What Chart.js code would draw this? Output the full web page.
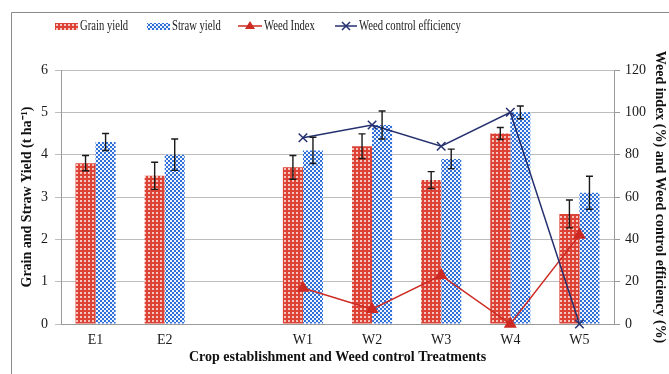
<!DOCTYPE html>
<html>
<head>
<meta charset="utf-8">
<script src="https://cdn.jsdelivr.net/npm/chart.js@4"></script>
<style>
  html, body { margin: 0; padding: 0; background: #fff; }
  #wrap { width: 669px; height: 374px; }
</style>
</head>
<body>
<div id="wrap"><canvas id="myChart" width="669" height="374"></canvas></div>
<script>
// data
const treatments = ['E1', 'E2', '', 'W1', 'W2', 'W3', 'W4', 'W5']
const grainYield = [3.8, 3.5, null, 3.7, 4.2, 3.4, 4.5, 2.6]
const grainErr   = [0.18, 0.32, null, 0.28, 0.29, 0.2, 0.14, 0.33]
const strawYield = [4.3, 4.0, null, 4.1, 4.7, 3.9, 5.0, 3.1]
const strawErr   = [0.2, 0.37, null, 0.31, 0.33, 0.23, 0.15, 0.39]
const weedIndex  = [null, null, null, 17, 7, 23, 0, 42]
const weedControl = [null, null, null, 88, 94, 84, 100, 0]
const yieldTicks = [0, 1, 2, 3, 4, 5, 6]
const percentTicks = [0, 20, 40, 60, 80, 100, 120]

const serif = "'Liberation Serif', 'Times New Roman', serif"

function makePattern(base, light, cells) {
  const c = document.createElement('canvas')
  c.width = 4
  c.height = 4
  const g = c.getContext('2d')
  g.fillStyle = base
  g.fillRect(0, 0, 4, 4)
  g.fillStyle = light
  cells.forEach(([x, y, w, h]) => g.fillRect(x, y, w || 1, h || 1))
  return g.createPattern(c, 'repeat')
}

const ctx = document.getElementById('myChart').getContext('2d')
const redPattern = makePattern('#dc4336', '#f6c6be', [[0, 0, 2, 2]])
const bluePattern = makePattern('#2f70d8', '#eef3fc', [[2, 0, 2, 2], [0, 2, 2, 2]])

// error bars on top of the bar datasets
const errorBars = {
  id: 'errorBars',
  afterDatasetsDraw(chart) {
    const c = chart.ctx
    const y = chart.scales.y
    const errs = [grainErr, strawErr]
    c.save()
    c.strokeStyle = '#1a1a1a'
    c.lineWidth = 1.4
    ;[0, 1].forEach(di => {
      const meta = chart.getDatasetMeta(di)
      meta.data.forEach((bar, i) => {
        const v = chart.data.datasets[di].data[i]
        const e = errs[di][i]
        if (v == null || e == null) return
        const top = y.getPixelForValue(v + e)
        const bot = y.getPixelForValue(v - e)
        c.beginPath()
        c.moveTo(bar.x, top); c.lineTo(bar.x, bot)
        c.moveTo(bar.x - 3.5, top); c.lineTo(bar.x + 3.5, top)
        c.moveTo(bar.x - 3.5, bot); c.lineTo(bar.x + 3.5, bot)
        c.stroke()
      })
    })
    c.restore()
  }
}

// narrow legend text, like the original
function legendText(c, text, x, y) {
  c.save()
  c.translate(x, y)
  c.scale(0.76, 1)
  c.fillText(text, 0, 0)
  c.restore()
}

// outer frame and the legend row
const frameLegend = {
  id: 'frameLegend',
  afterDraw(chart) {
    const c = chart.ctx
    c.save()
    c.strokeStyle = '#8a8a8a'
    c.lineWidth = 1
    c.beginPath()
    c.moveTo(11.5, 374); c.lineTo(11.5, 12.5); c.lineTo(669, 12.5)
    c.stroke()

    const ly = 26
    c.font = '14px ' + serif
    c.textBaseline = 'middle'

    c.fillStyle = redPattern
    c.fillRect(55, ly - 3, 23, 7)
    c.fillStyle = '#1a1a1a'
    legendText(c, 'Grain yield', 80, ly)

    c.fillStyle = bluePattern
    c.fillRect(147, ly - 3, 23, 7)
    c.fillStyle = '#1a1a1a'
    legendText(c, 'Straw yield', 172, ly)

    c.strokeStyle = '#cc2a22'
    c.lineWidth = 1.5
    c.beginPath(); c.moveTo(238, ly); c.lineTo(262, ly); c.stroke()
    c.fillStyle = '#cc2a22'
    c.beginPath(); c.moveTo(250, ly - 5); c.lineTo(255, ly + 3); c.lineTo(245, ly + 3); c.closePath(); c.fill()
    c.fillStyle = '#1a1a1a'
    legendText(c, 'Weed Index', 264, ly)

    c.strokeStyle = '#25306e'
    c.beginPath(); c.moveTo(335, ly); c.lineTo(357, ly); c.stroke()
    c.beginPath()
    c.moveTo(342, ly - 4); c.lineTo(350, ly + 4)
    c.moveTo(350, ly - 4); c.lineTo(342, ly + 4)
    c.stroke()
    legendText(c, 'Weed control efficiency', 359, ly)
    c.restore()
  }
}

new Chart(ctx, {
  type: 'bar',
  data: {
    labels: treatments,
    datasets: [
      {
        label: 'Grain yield',
        data: grainYield,
        backgroundColor: redPattern,
        yAxisID: 'y',
        order: 2,
        categoryPercentage: 0.58,
        barPercentage: 1.0
      },
      {
        label: 'Straw yield',
        data: strawYield,
        backgroundColor: bluePattern,
        yAxisID: 'y',
        order: 2,
        categoryPercentage: 0.58,
        barPercentage: 1.0
      },
      {
        type: 'line',
        label: 'Weed Index',
        data: weedIndex,
        yAxisID: 'y2',
        borderColor: '#cc2a22',
        backgroundColor: '#cc2a22',
        borderWidth: 1.5,
        pointStyle: 'triangle',
        pointRadius: 7.5,
        pointBorderWidth: 0,
        clip: false,
        order: 1
      },
      {
        type: 'line',
        label: 'Weed control efficiency',
        data: weedControl,
        yAxisID: 'y2',
        borderColor: '#25306e',
        backgroundColor: '#25306e',
        borderWidth: 1.5,
        pointStyle: 'crossRot',
        pointRadius: 6,
        pointBorderWidth: 1.5,
        clip: false,
        order: 0
      }
    ]
  },
  options: {
    responsive: false,
    animation: false,
    layout: { padding: { top: 70, left: 0, right: 0, bottom: 0 } },
    plugins: {
      legend: { display: false },
      tooltip: { enabled: false }
    },
    scales: {
      x: {
        grid: { display: false, drawTicks: false },
        border: { color: '#9a9a9a' },
        ticks: { color: '#1a1a1a', font: { family: serif, size: 14 }, padding: 8 },
        title: {
          display: true,
          text: 'Crop establishment and Weed control Treatments',
          color: '#111',
          font: { family: serif, size: 14, weight: 'bold' },
          padding: { top: 0, bottom: 8 }
        },
        afterFit: s => { s.height = 50 }
      },
      y: {
        position: 'left',
        min: 0,
        max: 6,
        afterBuildTicks: s => { s.ticks = yieldTicks.map(v => ({ value: v })) },
        grid: { color: '#bdbdbd', tickLength: 6 },
        border: { color: '#9a9a9a' },
        ticks: { color: '#1a1a1a', font: { family: serif, size: 14 }, padding: 7 },
        title: {
          display: true,
          text: 'Grain and Straw Yield (t ha\u207B\u00B9)',
          color: '#111',
          font: { family: serif, size: 14, weight: 'bold' },
          padding: { top: 19, bottom: 0 }
        },
        afterFit: s => { s.width = 61 }
      },
      y2: {
        position: 'right',
        min: 0,
        max: 120,
        afterBuildTicks: s => { s.ticks = percentTicks.map(v => ({ value: v })) },
        grid: { drawOnChartArea: false, color: '#9a9a9a', tickLength: 6 },
        border: { color: '#9a9a9a' },
        ticks: { color: '#1a1a1a', font: { family: serif, size: 14 }, padding: 5 },
        title: {
          display: true,
          text: 'Weed index (%) and Weed control efficiency (%)',
          color: '#111',
          font: { family: serif, size: 14, weight: 'bold' },
          padding: { top: 1, bottom: 0 }
        },
        afterFit: s => { s.width = 55 }
      }
    }
  },
  plugins: [errorBars, frameLegend]
})
</script>
</body>
</html>
